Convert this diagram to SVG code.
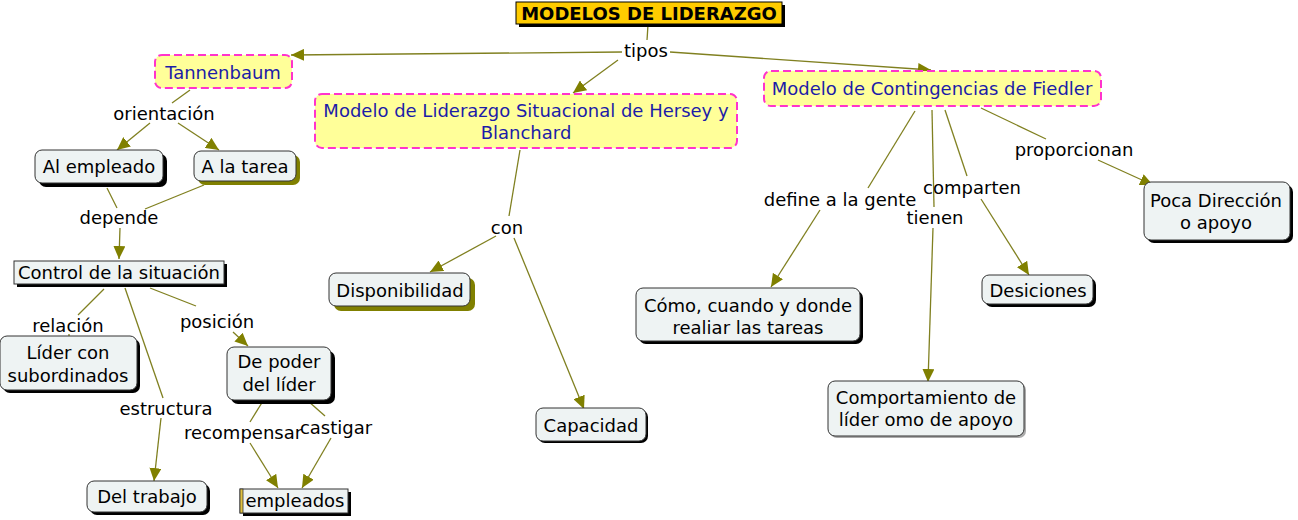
<svg xmlns="http://www.w3.org/2000/svg" width="1298" height="520" viewBox="0 0 1298 520">
<style>
text{font-family:"DejaVu Sans",Verdana,sans-serif;font-size:18px;fill:#000;text-anchor:middle;dominant-baseline:central}
.box{fill:#eef3f3;stroke:#333;stroke-width:1}
.sh{fill:#000}
.sho{fill:#808000}
.shg{fill:#aaa}
.dash{fill:#ffff99;stroke:#ff33cc;stroke-width:2;stroke-dasharray:8,4}
.blue{fill:#1c1ca8}
.ln{stroke:#808020;stroke-width:1.3;fill:none}
.ar{stroke:#808020;stroke-width:1.3;fill:none;marker-end:url(#ah)}
</style>
<defs>
<marker id="ah" markerUnits="userSpaceOnUse" markerWidth="14" markerHeight="12" refX="13" refY="6" orient="auto" viewBox="0 0 14 12">
<path d="M0,0 L13,6 L0,12 z" fill="#808000"/>
</marker>
</defs>
<rect width="1298" height="520" fill="#fff"/>
<g id="connectors">
<line class="ln" x1="648" y1="25" x2="647" y2="40"/>
<line class="ar" x1="622" y1="52" x2="291" y2="55"/>
<line class="ar" x1="618" y1="60" x2="573" y2="93"/>
<line class="ar" x1="670" y1="52" x2="931" y2="70"/>
<line class="ln" x1="190" y1="90" x2="172" y2="103"/>
<line class="ar" x1="150" y1="123" x2="117" y2="150"/>
<line class="ar" x1="178" y1="123" x2="219" y2="150"/>
<line class="ln" x1="107" y1="188" x2="117" y2="208"/>
<line class="ln" x1="204" y1="185" x2="145" y2="209"/>
<line class="ar" x1="120" y1="228" x2="119" y2="259"/>
<line class="ln" x1="104" y1="289" x2="78" y2="315"/>
<line class="ln" x1="69" y1="334" x2="69" y2="336"/>
<line class="ln" x1="150" y1="288" x2="196" y2="306"/>
<line class="ar" x1="233" y1="332" x2="248" y2="346"/>
<line class="ln" x1="125" y1="288" x2="163" y2="398"/>
<line class="ar" x1="161" y1="418" x2="154" y2="481"/>
<line class="ln" x1="263" y1="401" x2="250" y2="422"/>
<line class="ar" x1="250" y1="443" x2="278" y2="488"/>
<line class="ln" x1="308" y1="401" x2="325" y2="416"/>
<line class="ar" x1="331" y1="438" x2="302" y2="488"/>
<line class="ln" x1="520" y1="150" x2="509" y2="216"/>
<line class="ar" x1="496" y1="236" x2="430" y2="272"/>
<line class="ar" x1="514" y1="238" x2="584" y2="409"/>
<line class="ln" x1="915" y1="111" x2="868" y2="188"/>
<line class="ar" x1="820" y1="210" x2="771" y2="287"/>
<line class="ln" x1="932" y1="110" x2="934" y2="207"/>
<line class="ar" x1="933" y1="228" x2="928" y2="382"/>
<line class="ln" x1="945" y1="110" x2="967" y2="176"/>
<line class="ar" x1="981" y1="199" x2="1029" y2="275"/>
<line class="ln" x1="981" y1="108" x2="1046" y2="139"/>
<line class="ar" x1="1098" y1="160" x2="1153" y2="185"/>
</g>
<g id="link-labels">
<text x="646" y="50">tipos</text>
<text x="164" y="113">orientación</text>
<text x="119" y="217">depende</text>
<text x="68" y="325">relación</text>
<text x="217" y="321">posición</text>
<text x="166" y="408">estructura</text>
<text x="243" y="432">recompensar</text>
<text x="336" y="427">castigar</text>
<text x="507" y="227">con</text>
<text x="840" y="199">define a la gente</text>
<text x="935" y="217">tienen</text>
<text x="972" y="187">comparten</text>
<text x="1074" y="149">proporcionan</text>
</g>
<g id="n-title">
<rect x="519" y="5" width="266" height="22" class="sh"/>
<rect x="516" y="2" width="266" height="22" fill="#ffcc00" stroke="#000" stroke-width="1"/>
<text x="649" y="13" style="font-weight:bold;font-size:18px">MODELOS DE LIDERAZGO</text>
</g>
<g id="n-tannenbaum">
<rect x="155" y="55" width="137" height="33" rx="7" class="dash"/>
<text x="223" y="72" class="blue">Tannenbaum</text>
</g>
<g id="n-hersey">
<rect x="315" y="94" width="422" height="54" rx="7" class="dash"/>
<text x="526" y="110" class="blue">Modelo de Liderazgo Situacional de Hersey y</text>
<text x="526" y="132" class="blue">Blanchard</text>
</g>
<g id="n-fiedler">
<rect x="764" y="71" width="337" height="35" rx="7" class="dash"/>
<text x="932" y="88" class="blue">Modelo de Contingencias de Fiedler</text>
</g>
<g id="n-alempleado">
<rect x="39" y="154" width="128" height="33" rx="7" class="sh"/>
<rect x="35" y="150" width="128" height="33" rx="7" class="box"/>
<text x="99" y="166">Al empleado</text>
</g>
<g id="n-alatarea">
<rect x="198" y="155" width="102" height="30" rx="7" class="sho"/>
<rect x="194" y="151" width="102" height="30" rx="7" class="box"/>
<text x="245" y="166">A la tarea</text>
</g>
<g id="n-control">
<rect x="17" y="264" width="210" height="23" class="sh"/>
<rect x="14" y="261" width="210" height="23" class="box"/>
<text x="119" y="272">Control de la situación</text>
</g>
<g id="n-lider">
<rect x="3" y="339" width="137" height="54" rx="7" class="sh"/>
<rect x="0" y="336" width="137" height="54" rx="7" class="box"/>
<text x="68" y="352">Líder con</text>
<text x="68" y="375">subordinados</text>
</g>
<g id="n-depoder">
<rect x="231" y="351" width="104" height="53" rx="7" class="sh"/>
<rect x="227" y="347" width="104" height="53" rx="7" class="box"/>
<text x="279" y="361">De poder</text>
<text x="279" y="384">del líder</text>
</g>
<g id="n-deltrabajo">
<rect x="90" y="484" width="120" height="31" rx="7" class="sh"/>
<rect x="87" y="481" width="120" height="31" rx="7" class="box"/>
<text x="147" y="496">Del trabajo</text>
</g>
<g id="n-empleados">
<rect x="243" y="492" width="108" height="24" class="sh"/>
<rect x="240" y="489" width="108" height="24" class="box"/>
<rect x="240" y="489" width="3" height="24" fill="#e0c040" stroke="#333" stroke-width="0.8"/>
<text x="295" y="500">empleados</text>
</g>
<g id="n-disponibilidad">
<rect x="334" y="278" width="141" height="33" rx="7" class="sho"/>
<rect x="329" y="273" width="141" height="33" rx="7" class="box"/>
<text x="400" y="290">Disponibilidad</text>
</g>
<g id="n-capacidad">
<rect x="538" y="410" width="110" height="33" rx="7" class="sh"/>
<rect x="536" y="408" width="110" height="33" rx="7" class="box"/>
<text x="591" y="425">Capacidad</text>
</g>
<g id="n-como">
<rect x="639" y="291" width="224" height="53" rx="7" class="sh"/>
<rect x="636" y="288" width="224" height="53" rx="7" class="box"/>
<text x="748" y="305">Cómo, cuando y donde</text>
<text x="748" y="327">realiar las tareas</text>
</g>
<g id="n-comportamiento">
<rect x="830" y="383" width="196" height="55" rx="7" class="shg"/>
<rect x="828" y="381" width="196" height="55" rx="7" class="box"/>
<text x="926" y="397">Comportamiento de</text>
<text x="926" y="419">líder omo de apoyo</text>
</g>
<g id="n-desiciones">
<rect x="985" y="278" width="111" height="29" rx="7" class="sh"/>
<rect x="982" y="275" width="111" height="29" rx="7" class="box"/>
<text x="1038" y="290">Desiciones</text>
</g>
<g id="n-poca">
<rect x="1147" y="185" width="146" height="58" rx="7" class="sh"/>
<rect x="1144" y="182" width="146" height="58" rx="7" class="box"/>
<text x="1216" y="200">Poca Dirección</text>
<text x="1216" y="222">o apoyo</text>
</g>
</svg>
